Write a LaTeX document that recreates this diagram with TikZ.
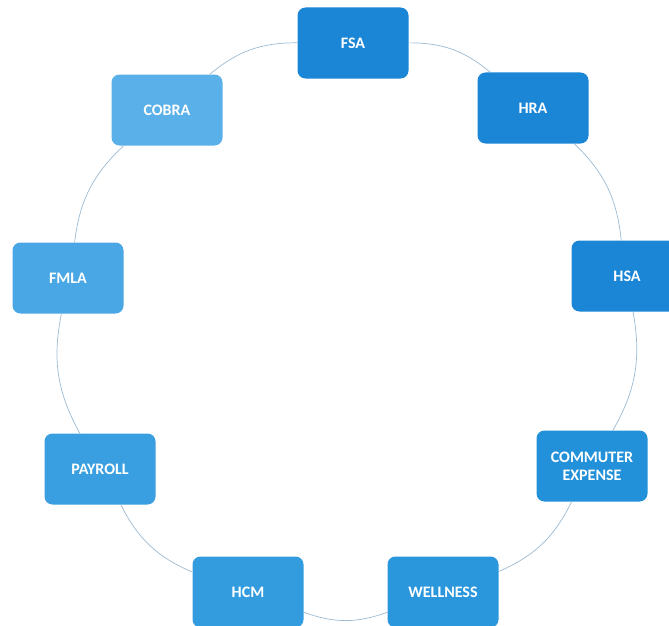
\documentclass[tikz,border=0pt]{standalone}
\usepackage{fontspec}
\setmainfont{Carlito}
\definecolor{cA}{HTML}{1C86D6}
\definecolor{cB}{HTML}{2391DA}
\definecolor{cC}{HTML}{2A97DD}
\definecolor{cD}{HTML}{339CDF}
\definecolor{cE}{HTML}{3A9FE0}
\definecolor{cF}{HTML}{48A7E4}
\definecolor{cG}{HTML}{5AB0E8}
\definecolor{linkc}{HTML}{9DBBD2}
\tikzset{
  box/.style={rounded corners=8pt, minimum width=111pt, minimum height=71pt,
    text=white, font=\fontsize{16}{18}\selectfont\bfseries, align=center, inner sep=2pt},
  link/.style={draw=linkc, line width=0.7pt}
}
\begin{document}
\begin{tikzpicture}[x=1pt,y=-1pt]
\clip (0,0) rectangle (669,626);
\fill[white] (0,0) rectangle (669,626);
\node[box, fill=cA] (fsa) at (353,43) {FSA};
\node[box, fill=cA] (hra) at (533,108) {HRA};
\node[box, fill=cA] (hsa) at (627,276) {HSA};
\node[box, fill=cB] (com) at (592,466) {COMMUTER\\EXPENSE};
\node[box, fill=cC] (wel) at (443,592) {WELLNESS};
\node[box, fill=cD] (hcm) at (248,592) {HCM};
\node[box, fill=cE] (pay) at (100,469) {PAYROLL};
\node[box, fill=cF] (fmla) at (68,278) {FMLA};
\node[box, fill=cG] (cobra) at (167,110) {COBRA};
\draw[link] (fsa) to[bend left=20] (hra);
\draw[link] (hra) to[bend left=20] (hsa);
\draw[link] (hsa) to[bend left=20] (com);
\draw[link] (com) to[bend left=20] (wel);
\draw[link] (wel) to[bend left=20] (hcm);
\draw[link] (hcm) to[bend left=20] (pay);
\draw[link] (pay) to[bend left=20] (fmla);
\draw[link] (fmla) to[bend left=20] (cobra);
\draw[link] (cobra) to[bend left=20] (fsa);
\end{tikzpicture}
\end{document}
